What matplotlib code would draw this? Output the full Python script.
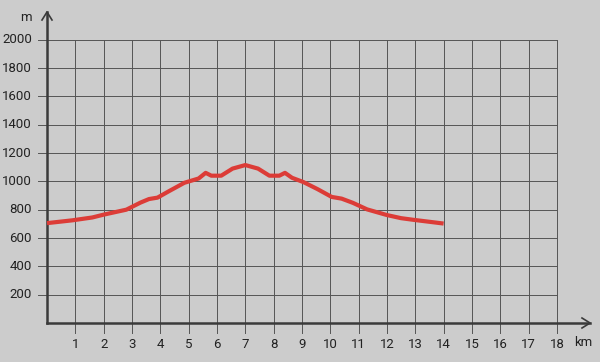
import matplotlib
matplotlib.use("Agg")
import matplotlib.pyplot as plt

# elevation profile (km, m)
distance_km = [0, 0.9, 1.6, 2.0, 2.8, 3.3, 3.6, 3.9, 4.3, 4.85, 5.35, 5.6, 5.8, 6.15,
               6.55, 7.0, 7.45, 7.85, 8.2, 8.4, 8.65, 9.05, 9.55, 10.05, 10.4, 10.8,
               11.3, 12.0, 12.5, 12.95, 13.6, 14.0]
elevation_m = [705, 725, 745, 765, 800, 850, 875, 885, 930, 990, 1020, 1060, 1040, 1040,
               1090, 1115, 1090, 1040, 1040, 1060, 1025, 995, 945, 890, 878, 848,
               802, 762, 740, 728, 712, 702]
x_ticks = list(range(1, 19))
y_ticks = list(range(200, 2001, 200))

BG = "#cccccc"
GRID = "#555555"
AXIS = "#3a3a3a"
RED = "#dc3c37"

# pixel scale: 28.33 px per km and per 200 m
PX_X = 1 / 28.33
PX_Y = 200 / 28.33

fig = plt.figure(figsize=(6, 3.62), dpi=100, facecolor=BG)
ax = fig.add_axes([0, 0, 1, 1])
ax.set_facecolor(BG)
ax.set_xlim(-47 * PX_X, 553 * PX_X)
ax.set_ylim(-39 * PX_Y, 323 * PX_Y)
ax.axis("off")

font = dict(family=["Roboto", "DejaVu Sans"], fontsize=9.5, color="#222222")

for y in y_ticks:
    ax.plot([-9 * PX_X, 18], [y, y], color=GRID, lw=0.7, zorder=1)
    ax.text(-15 * PX_X, y, str(y), ha="right", va="center", **font)
for x in x_ticks:
    ax.plot([x, x], [-10 * PX_Y, 2000], color=GRID, lw=0.7, zorder=1)
    ax.text(x, -21 * PX_Y, str(x), ha="center", va="center", **font)

# axes with open arrow heads
ax.plot([0, 0], [0, 311 * PX_Y], color=AXIS, lw=1.8, zorder=3)
ax.plot([-5 * PX_X, 0, 5 * PX_X], [303 * PX_Y, 311 * PX_Y, 303 * PX_Y], color=AXIS, lw=1.2, zorder=3)
ax.plot([0, 543 * PX_X], [0, 0], color=AXIS, lw=1.8, zorder=3)
ax.plot([535 * PX_X, 543 * PX_X, 535 * PX_X], [5 * PX_Y, 0, -5 * PX_Y], color=AXIS, lw=1.2, zorder=3)

ax.text(-21 * PX_X, 306 * PX_Y, "m", ha="center", va="center", **font)
ax.text(536 * PX_X, -20 * PX_Y, "km", ha="center", va="center", **font)

ax.plot(distance_km, elevation_m, color=RED, lw=3, solid_capstyle="butt", zorder=4)

fig.savefig("out.png", dpi=100, facecolor=BG)
